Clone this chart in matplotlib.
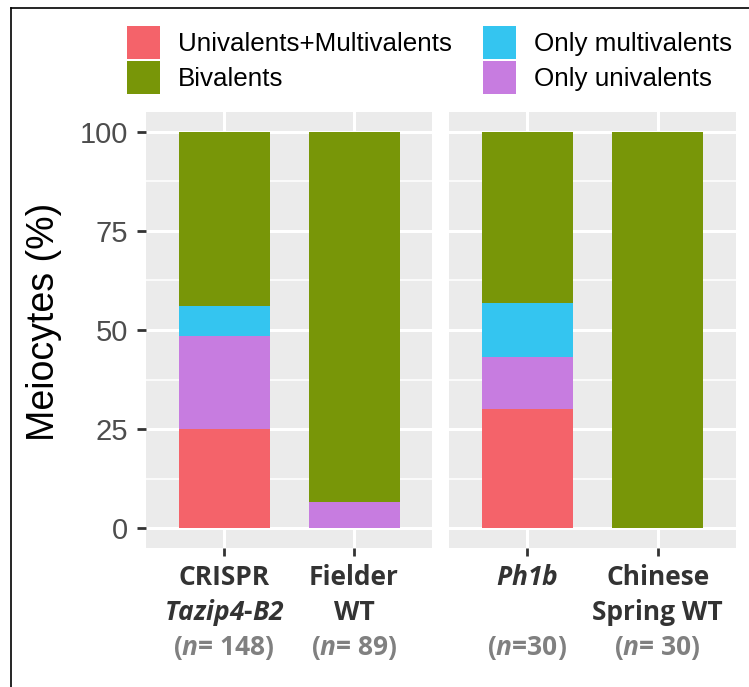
import matplotlib
matplotlib.use("Agg")
import matplotlib.pyplot as plt
from matplotlib.patches import Patch
from matplotlib.lines import Line2D

# stacked percentages per genotype (bottom -> top)
groups = ["CRISPR Tazip4-B2", "Fielder WT", "Ph1b", "Chinese Spring WT"]
uni_multi = [25.0, 0.0, 30.0, 0.0]
only_uni = [23.6, 6.7, 13.3, 0.0]
only_multi = [7.4, 0.0, 13.4, 0.0]
bivalents = [44.0, 93.3, 43.3, 100.0]

series_names = ["Univalents+Multivalents", "Only univalents", "Only multivalents", "Bivalents"]
series_vals = [uni_multi, only_uni, only_multi, bivalents]
colors = {"Univalents+Multivalents": "#F4636A",
          "Only univalents": "#C77CE0",
          "Only multivalents": "#34C5F0",
          "Bivalents": "#789608"}

line1 = ["CRISPR", "Fielder", r"$\mathbfit{Ph1b}$", "Chinese"]
line2 = [r"$\mathbfit{Tazip4}$-$\mathbfit{B2}$", "WT", "", "Spring WT"]
line3 = [r"($\mathbfit{n}$= 148)", r"($\mathbfit{n}$= 89)", r"($\mathbfit{n}$=30)", r"($\mathbfit{n}$= 30)"]

yticks = [0, 25, 50, 75, 100]
yminor = [12.5, 37.5, 62.5, 87.5]

plt.rcParams['font.family'] = ['Liberation Sans', 'DejaVu Sans']
plt.rcParams['mathtext.fontset'] = 'custom'
plt.rcParams['mathtext.bfit'] = 'Open Sans:italic:bold'
plt.rcParams['mathtext.bf'] = 'Open Sans:bold'

W, H = 749, 687
fig = plt.figure(figsize=(W / 100, H / 100), dpi=100)

panel_px = [(146, 286), (449, 287)]
top_px, bot_px = 112, 548
axes = []
for (lx, w) in panel_px:
    ax = fig.add_axes([lx / W, (H - bot_px) / H, w / W, (bot_px - top_px) / H])
    axes.append(ax)

for p, ax in enumerate(axes):
    idx = [2 * p, 2 * p + 1]
    pos = [0, 1]
    bottom = [0.0, 0.0]
    for name, vals in zip(series_names, series_vals):
        v = [vals[i] for i in idx]
        ax.bar(pos, v, width=0.7, bottom=bottom, color=colors[name], linewidth=0)
        bottom = [b + x for b, x in zip(bottom, v)]
    ax.set_facecolor("#EBEBEB")
    ax.set_xlim(-0.6, 1.6)
    ax.set_ylim(-5, 105)
    ax.set_xticks(pos)
    ax.set_xticklabels([])
    ax.set_yticks(yticks)
    ax.set_yticks(yminor, minor=True)
    ax.set_axisbelow(True)
    ax.grid(which='major', color='white', linewidth=2.2)
    ax.grid(which='minor', axis='y', color='white', linewidth=1.1)
    for s in ax.spines.values():
        s.set_visible(False)
    ax.tick_params(axis='x', length=5.8, width=2, color='#333333')
    ax.tick_params(which='minor', length=0)
    if p == 0:
        ax.tick_params(axis='y', length=6.5, width=2, color='#333333',
                       labelsize=21, labelcolor='#4D4D4D', pad=6.5)
    else:
        ax.tick_params(axis='y', length=0, labelleft=False)

    # x labels, drawn line by line
    tr = ax.get_xaxis_transform()
    for j, i in enumerate(idx):
        for txt, off, col in [(line1[i], 26.6, '#333333'),
                              (line2[i], 51.8, '#333333'),
                              (line3[i], 76.8, '#808080')]:
            if txt:
                ax.annotate(txt, xy=(pos[j], 0), xycoords=tr,
                            xytext=(0, -off), textcoords='offset points',
                            ha='center', va='baseline', fontsize=19,
                            fontweight='bold', color=col, family='Open Sans',
                            annotation_clip=False)

fig.text(44 / W, 1 - 322 / H, "Meiocytes (%)", rotation=90, ha='center',
         va='center', fontsize=27, color='black')

leg_order = ["Univalents+Multivalents", "Bivalents", "Only multivalents", "Only univalents"]
handles = [Patch(facecolor=colors[n], edgecolor='none', label=n) for n in leg_order]
fig.legend(handles=handles, ncol=2, loc='upper left',
           bbox_to_anchor=(127 / W, 1 - 26 / H), frameon=False, fontsize=18.7,
           handlelength=1.27, handleheight=1.58, handletextpad=0.69,
           labelspacing=0.077, columnspacing=1.19, borderpad=0, borderaxespad=0)

# outer frame (top and left edges only, as in the cropped figure)
fig.add_artist(Line2D([10.5 / W, 10.5 / W], [0, 1 - 8 / H], transform=fig.transFigure,
                      color='black', linewidth=1.2))
fig.add_artist(Line2D([10.5 / W, 1], [1 - 8 / H, 1 - 8 / H], transform=fig.transFigure,
                      color='black', linewidth=1.2))

fig.savefig("out.png", dpi=100)
